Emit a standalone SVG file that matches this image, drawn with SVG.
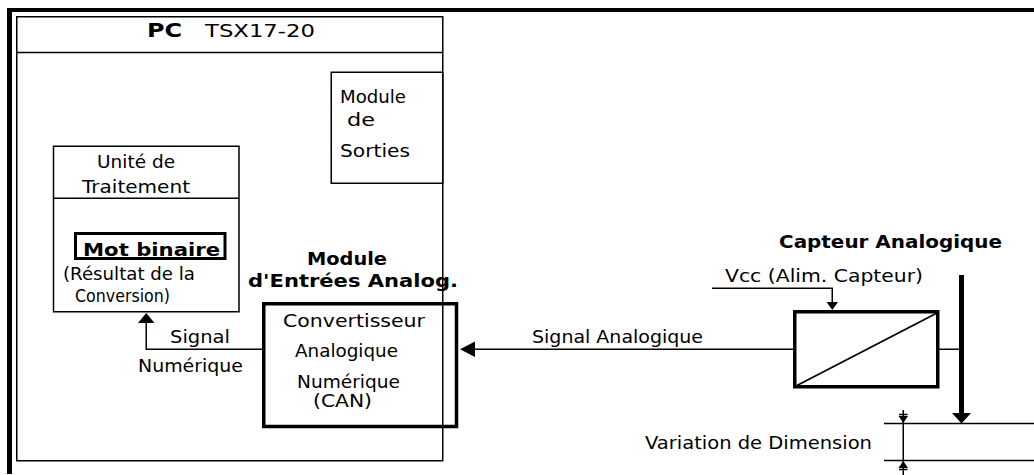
<svg xmlns="http://www.w3.org/2000/svg" width="1034" height="475" viewBox="0 0 1034 475">
<style>
.t{font-family:"DejaVu Sans","Liberation Sans",sans-serif;font-size:18.5px;fill:#000}
.b{font-family:"DejaVu Sans","Liberation Sans",sans-serif;font-size:18px;font-weight:bold;fill:#000}
.thin{fill:none;stroke:#000;stroke-width:1.5}
.thick{fill:none;stroke:#000;stroke-width:3.5}
.ln{fill:none;stroke:#000;stroke-width:1.5}
.ah{fill:#000;stroke:none}
</style>
<rect width="1034" height="475" fill="#fff"/>
<g id="frame">
<rect x="7" y="8" width="1027" height="4" fill="#000"/>
<rect x="7" y="8" width="5" height="466" fill="#000"/>
</g>
<g id="pc">
<rect class="thin" x="16.75" y="16.75" width="426" height="444"/>
<line class="thin" x1="16.75" y1="52.5" x2="442.75" y2="52.5"/>
<text class="b" x="147" y="37" style="font-size:19px" textLength="35" lengthAdjust="spacingAndGlyphs">PC</text>
<text class="t" x="205" y="37" style="font-size:17px" textLength="110" lengthAdjust="spacingAndGlyphs">TSX17-20</text>
</g>
<g id="module-sorties">
<rect class="thin" x="331.25" y="72.25" width="111.5" height="111"/>
<text class="t" x="340" y="103" textLength="66" lengthAdjust="spacingAndGlyphs">Module</text>
<text class="t" x="347" y="126" textLength="28" lengthAdjust="spacingAndGlyphs">de</text>
<text class="t" x="340" y="157" textLength="70" lengthAdjust="spacingAndGlyphs">Sorties</text>
</g>
<g id="unite-traitement">
<rect class="thin" x="53.5" y="146.25" width="185.5" height="165.5"/>
<line class="thin" x1="53.5" y1="198.25" x2="239" y2="198.25"/>
<text class="t" x="97" y="168" textLength="78" lengthAdjust="spacingAndGlyphs">Unité de</text>
<text class="t" x="82" y="193" textLength="108" lengthAdjust="spacingAndGlyphs">Traitement</text>
<rect class="thick" x="75.5" y="233.5" width="149.5" height="25" style="stroke-width:3"/>
<text class="b" x="83" y="256" textLength="137" lengthAdjust="spacingAndGlyphs">Mot binaire</text>
<text class="t" x="63" y="280" textLength="132" lengthAdjust="spacingAndGlyphs">(Résultat de la</text>
<text class="t" x="75" y="302" textLength="95" lengthAdjust="spacingAndGlyphs">Conversion)</text>
</g>
<g id="module-entrees">
<text class="b" x="307" y="265" textLength="80" lengthAdjust="spacingAndGlyphs">Module</text>
<text class="b" x="248" y="287" textLength="210" lengthAdjust="spacingAndGlyphs">d'Entrées Analog.</text>
<rect class="thick" x="263.75" y="303.75" width="192.75" height="122.75" fill="#fff"/>
<text class="t" x="283" y="327" textLength="142" lengthAdjust="spacingAndGlyphs">Convertisseur</text>
<text class="t" x="295" y="357" textLength="103" lengthAdjust="spacingAndGlyphs">Analogique</text>
<text class="t" x="297" y="388" textLength="103" lengthAdjust="spacingAndGlyphs">Numérique</text>
<text class="t" x="313" y="407" textLength="59" lengthAdjust="spacingAndGlyphs">(CAN)</text>
</g>
<g id="capteur">
<text class="b" x="779" y="248" textLength="223" lengthAdjust="spacingAndGlyphs">Capteur Analogique</text>
<rect class="thick" x="794.75" y="311.75" width="143" height="75"/>
<line x1="796" y1="386" x2="937" y2="313" stroke="#000" stroke-width="1.8"/>
</g>
<g id="connectors">
<polyline class="ln" points="262,349.25 146.25,349.25 146.25,322"/>
<polygon class="ah" points="146.25,313 138,323 154.5,323"/>
<text class="t" x="170" y="343" textLength="60" lengthAdjust="spacingAndGlyphs">Signal</text>
<text class="t" x="138" y="372" textLength="105" lengthAdjust="spacingAndGlyphs">Numérique</text>
<line class="ln" x1="793" y1="349.25" x2="474" y2="349.25"/>
<polygon class="ah" points="460,349.25 475,341.5 475,357"/>
<text class="t" x="532" y="343" textLength="171" lengthAdjust="spacingAndGlyphs">Signal Analogique</text>
<polyline class="ln" points="712,288.25 832.25,288.25 832.25,303"/>
<polygon class="ah" points="832.25,310 826.5,302 838,302"/>
<text class="t" x="725" y="282" textLength="198" lengthAdjust="spacingAndGlyphs">Vcc (Alim. Capteur)</text>
<line class="ln" x1="939" y1="349.25" x2="961" y2="349.25"/>
<line x1="961.5" y1="275" x2="961.5" y2="414" stroke="#000" stroke-width="5"/>
<polygon class="ah" points="952,413 971,413 961.5,423.5"/>
<line class="ln" x1="884" y1="423.5" x2="1034" y2="423.5"/>
<line class="ln" x1="884" y1="460.5" x2="1034" y2="460.5"/>
<line class="ln" x1="903.25" y1="410" x2="903.25" y2="475"/>
<line class="ln" x1="899" y1="414.5" x2="907.5" y2="414.5"/>
<polygon class="ah" points="898.5,416 908,416 903.25,423"/>
<line class="ln" x1="899" y1="469.5" x2="907.5" y2="469.5"/>
<polygon class="ah" points="898.5,468 908,468 903.25,461"/>
<text class="t" x="645" y="449" textLength="227" lengthAdjust="spacingAndGlyphs">Variation de Dimension</text>
</g>
</svg>
